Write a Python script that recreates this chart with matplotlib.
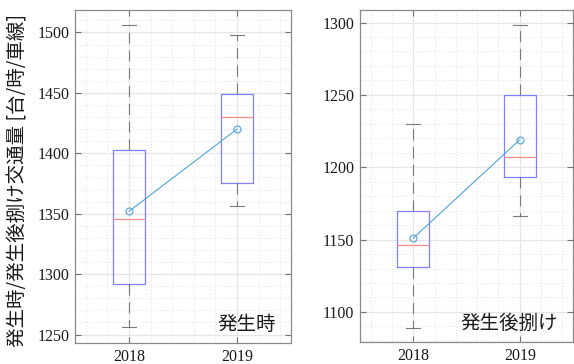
"""Box plots of traffic volume at incident onset and during discharge, 2018 vs 2019."""

import matplotlib

matplotlib.use("Agg")
import matplotlib.pyplot as plt
from matplotlib.ticker import MultipleLocator

years = ["2018", "2019"]

# five-number summaries per year: (lower whisker, q1, median, q3, upper whisker)
onset_stats = [
    (1256, 1292, 1346, 1403, 1506),
    (1356, 1375, 1430, 1449, 1498),
]
onset_means = [1352, 1420]

discharge_stats = [
    (1089, 1131, 1146, 1170, 1230),
    (1166, 1193, 1207, 1250, 1298),
]
discharge_means = [1151, 1219]

panels = [
    ("発生時", onset_stats, onset_means, (1243, 1519), 50),
    ("発生後捌け", discharge_stats, discharge_means, (1079, 1309), 50),
]

CJK = ["Noto Sans CJK JP", "DejaVu Sans"]
BOX_C = "#8080ff"
MED_C = "#ff8c8c"
MEAN_C = "#4fa3dc"
WHISK_C = "#7a7a7a"


def to_bxp(stats, means):
    out = []
    for (lo, q1, med, q3, hi), m in zip(stats, means):
        out.append({"whislo": lo, "q1": q1, "med": med, "q3": q3, "whishi": hi,
                    "mean": m, "fliers": []})
    return out


def main():
    plt.rcParams.update({
        "font.family": ["Liberation Serif", "DejaVu Serif"],
        "font.size": 11.5,
    })
    fig = plt.figure(figsize=(5.74, 3.64), dpi=100)
    rects = [
        [0.1307, 0.0577, 0.3763, 0.9162],
        [0.6272, 0.0596, 0.3711, 0.9143],
    ]

    for rect, (label, stats, means, ylim, step) in zip(rects, panels):
        ax = fig.add_axes(rect)
        pos = [1, 2]
        ax.bxp(
            to_bxp(stats, means),
            positions=pos,
            widths=0.3,
            showfliers=False,
            boxprops={"color": BOX_C, "linewidth": 0.9},
            medianprops={"color": MED_C, "linewidth": 0.9},
            whiskerprops={"color": WHISK_C, "linewidth": 0.8, "linestyle": (0, (10, 6))},
            capprops={"color": WHISK_C, "linewidth": 0.8},
            capwidths=0.13,
            zorder=3,
        )
        ax.plot(pos, means, color=MEAN_C, lw=0.8, marker="o", ms=5,
                mfc="none", mec=MEAN_C, mew=0.8, zorder=4)

        ax.set_xlim(0.5, 2.5)
        ax.set_ylim(*ylim)
        ax.set_xticks(pos, years)
        ax.yaxis.set_major_locator(MultipleLocator(step))
        ax.yaxis.set_minor_locator(MultipleLocator(10))
        ax.xaxis.set_minor_locator(MultipleLocator(0.2))
        ax.grid(which="major", color="#e6e6e6", lw=0.9, zorder=0)
        ax.grid(which="minor", color="#d6d6d6", lw=0.6, ls=(0, (1, 2.5)), zorder=0)
        ax.set_axisbelow(True)
        ax.tick_params(which="both", direction="in", top=True, right=True,
                       color="#707070", labelsize=11.5, labelcolor="#1a1a1a")
        ax.tick_params(which="major", length=4, pad=4)
        ax.tick_params(which="minor", length=0)
        for sp in ax.spines.values():
            sp.set_color("#8a8a8a")
            sp.set_linewidth(0.9)

        ax.text(0.93, 0.025, label, transform=ax.transAxes, ha="right", va="bottom",
                fontsize=14, family=CJK, color="#1a1a1a")

        if label == "発生時":
            ax.set_ylabel("発生時/発生後捌け交通量 [台/時/車線]", family=CJK,
                          fontsize=14, color="#1a1a1a")
            ax.yaxis.set_label_coords(-0.215, 0.487)

    fig.savefig("out.png", dpi=100)


if __name__ == "__main__":
    main()
